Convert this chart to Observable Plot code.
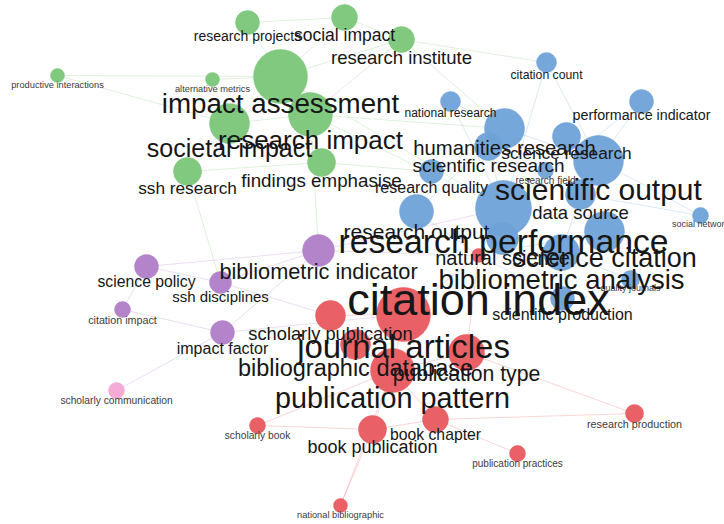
<!DOCTYPE html>
<html>
<head>
<meta charset="utf-8">
<script src="https://cdn.jsdelivr.net/npm/d3@7"></script>
<script src="https://cdn.jsdelivr.net/npm/@observablehq/plot@0.6"></script>
<style>
  html, body { margin: 0; padding: 0; background: #fff; }
  #chart svg { display: block; }
</style>
</head>
<body>
<div id="chart"></div>
<script>
// Node terms (VOSviewer-style co-occurrence map)
const terms = [
  "research projects","social impact","research institute","productive interactions","alternative metrics",
  "impact assessment","societal impact","research impact","ssh research","findings emphasise",
  "citation count","national research","performance indicator","humanities research","science research",
  "scientific research","research field","scientific output","research quality","data source",
  "social network","research output","research performance","natural science","science citation",
  "bibliometric analysis","quality journals","scientific production",
  "citation index","journal articles","scholarly publication","bibliographic database","publication type",
  "publication pattern","book chapter","book publication","scholarly book","research production",
  "publication practices","national bibliographic",
  "bibliometric indicator","science policy","ssh disciplines","citation impact","impact factor",
  "scholarly communication"
];
const clusters = [
  "C2","C2","C2","C2","C2","C2","C2","C2","C2","C2",
  "C3","C3","C3","C3","C3","C3","C3","C3","C3","C3",
  "C3","C3","C3","C3","C3","C3","C3","C3",
  "C1","C1","C1","C1","C1","C1","C1","C1","C1","C1","C1","C1",
  "C4","C4","C4","C4","C4",
  "C5"
];
// map coordinates
const mapX = [
  247,344,401,57,212,280,229,310,187,321,
  546,450,641,504,566,488,545,598,431,580,
  700,416,503,502,604,561,630,562,
  478,403,330,355,466,392,435,372,257,634,517,340,
  318,146,220,122,222,
  116
];
const mapY = [
  22,17,39,75,79,76,123,114,171,162,
  62,101,101,128,136,146,170,160,171,194,
  215,211,208,238,231,252,279,298,
  255,314,315,344,352,370,419,429,425,413,453,505,
  250,266,282,309,332,
  390
];
// occurrences -> circle size
const occurrences = [
  56,66,66,19,19,285,156,189,77,77,
  39,39,56,156,77,77,25,244,56,88,
  25,113,306,100,156,127,32,56,
  19,285,88,88,127,189,66,77,25,32,25,19,
  100,56,47,25,56,
  25
];
// total link strength -> label size
const linkStrength = [
  56,70,74,37,37,111,100,104,69,75,
  49,48,57,81,69,76,40,120,64,74,
  36,84,135,80,108,110,36,64,
  180,132,73,94,85,115,63,72,41,43,40,37,
  87,63,60,43,64,
  41
];
const links = [
  ["productive interactions","impact assessment"],["productive interactions","societal impact"],
  ["alternative metrics","impact assessment"],["research projects","social impact"],
  ["research projects","impact assessment"],["social impact","impact assessment"],
  ["social impact","research institute"],["research institute","impact assessment"],
  ["research institute","research impact"],["research institute","humanities research"],
  ["research institute","citation count"],["impact assessment","research impact"],
  ["impact assessment","societal impact"],["impact assessment","findings emphasise"],
  ["impact assessment","research performance"],["societal impact","ssh research"],
  ["societal impact","research impact"],["ssh research","findings emphasise"],
  ["ssh research","ssh disciplines"],["findings emphasise","research quality"],
  ["research impact","humanities research"],["research impact","research performance"],
  ["research impact","bibliometric indicator"],["citation count","research performance"],
  ["citation count","scientific output"],["national research","humanities research"],
  ["national research","research performance"],["performance indicator","scientific output"],
  ["performance indicator","research performance"],["social network","scientific output"],
  ["social network","data source"],["humanities research","scientific output"],
  ["humanities research","research output"],["science research","scientific output"],
  ["scientific research","research performance"],["research output","citation index"],
  ["data source","bibliometric analysis"],["science citation","citation index"],
  ["bibliometric analysis","citation index"],["quality journals","bibliometric analysis"],
  ["scientific production","citation index"],["science policy","bibliometric indicator"],
  ["science policy","citation impact"],["science policy","ssh disciplines"],
  ["citation impact","impact factor"],["impact factor","scholarly communication"],
  ["impact factor","journal articles"],["impact factor","bibliometric indicator"],
  ["ssh disciplines","bibliometric indicator"],["ssh disciplines","scholarly publication"],
  ["bibliometric indicator","citation index"],["bibliometric indicator","research performance"],
  ["scholarly book","book publication"],["scholarly book","publication pattern"],
  ["national bibliographic","book publication"],["national bibliographic","publication pattern"],
  ["book chapter","publication practices"],["book chapter","research production"],
  ["book chapter","publication pattern"],["book publication","book chapter"],
  ["book publication","publication pattern"],["publication pattern","journal articles"],
  ["publication pattern","publication type"],["publication pattern","bibliographic database"],
  ["journal articles","citation index"],["journal articles","scholarly publication"],
  ["journal articles","bibliographic database"],["citation index","research performance"],
  ["publication type","citation index"],["research production","publication type"]
];

const clusterOrder = ["C1","C4","C5","C2","C3"];
const clusterColors = ["#e8585e","#b07dc8","#f3a6d6","#7bc679","#6fa2d8"];

const nodes = terms.map((t, i) => ({
  term: t, cluster: clusters[i], x: mapX[i], y: mapY[i],
  occ: occurrences[i], tls: linkStrength[i]
}));
const byTerm = new Map(nodes.map(d => [d.term, d]));
const edges = links.map(([a, b]) => ({source: byTerm.get(a), target: byTerm.get(b)}));

const fontScale = d3.scaleLinear([0, 180], [0, 45]);
const drawOrder = nodes.slice().sort((a, b) =>
  clusterOrder.indexOf(a.cluster) - clusterOrder.indexOf(b.cluster) || b.occ - a.occ);
const labels = nodes.slice().sort((a, b) => a.tls - b.tls);

const chart = Plot.plot({
  width: 724,
  height: 524,
  margin: 0,
  style: {background: "#fff", fontFamily: "'Liberation Sans', Arial, sans-serif"},
  x: {domain: [0, 724], range: [0, 724], axis: null},
  y: {domain: [0, 524], range: [0, 524], axis: null},
  r: {type: "sqrt", domain: [0, 320], range: [0, 28.6]},
  color: {type: "ordinal", domain: clusterOrder, range: clusterColors},
  marks: [
    Plot.link(edges, {
      x1: d => d.source.x, y1: d => d.source.y,
      x2: d => d.target.x, y2: d => d.target.y,
      stroke: d => d.source.cluster, strokeOpacity: 0.25, strokeWidth: 1
    }),
    Plot.dot(drawOrder, {
      x: "x", y: "y", r: "occ", fill: "cluster", fillOpacity: 0.95,
      stroke: "cluster", strokeOpacity: 0.5, strokeWidth: 1
    }),
    Plot.text(labels, {
      x: "x",
      y: d => d.y + fontScale(d.tls),
      text: "term",
      fontSize: d => fontScale(d.tls),
      fill: d => fontScale(d.tls) < 12 ? "#3a3a3a" : "#161616",
      textAnchor: "middle",
      lineAnchor: "middle"
    })
  ]
});
document.getElementById("chart").appendChild(chart);
</script>
</body>
</html>
